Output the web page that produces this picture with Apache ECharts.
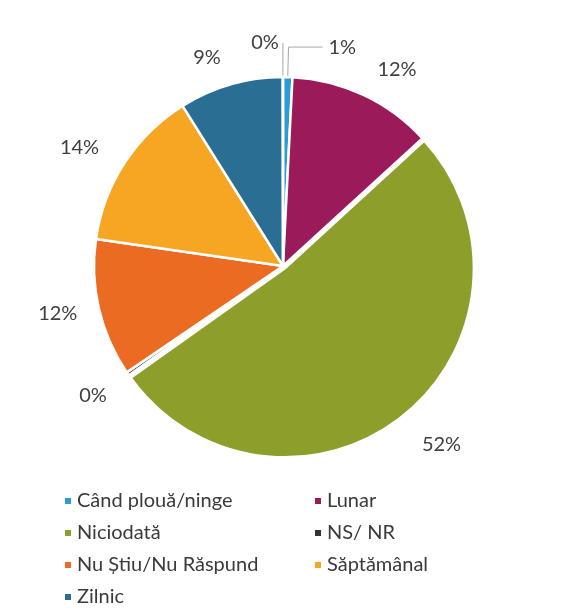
<!DOCTYPE html>
<html>
<head>
<meta charset="utf-8">
<script src="https://cdn.jsdelivr.net/npm/echarts@6/dist/echarts.min.js"></script>
<style>html,body{margin:0;padding:0;background:#fff}#c{width:565px;height:608px}</style>
</head>
<body>
<div id="c"></div>
<script>
// Categories (clockwise from 12 o'clock) and values (percent)
const categories = ['Când plouă/ninge', 'Lunar', 'Niciodată', 'NS/ NR', 'Nu Știu/Nu Răspund', 'Săptămânal', 'Zilnic'];
const values = [0.8, 12.4, 52.0, 0.3, 11.8, 13.8, 8.9];
// An extra unnamed near-zero entry that closes the circle (shown as "0%" at the top)
const trailingValue = 0.02;
const colors = ['#2f9bd5', '#9b1b5a', '#8d9e2a', '#333333', '#ec6b22', '#f6a623', '#2b6e93'];
const legendLeft = ['Când plouă/ninge', 'Niciodată', 'Nu Știu/Nu Răspund', 'Zilnic'];
const legendRight = ['Lunar', 'NS/ NR', 'Săptămânal'];

const FONT = 'Lato, "Open Sans", sans-serif';
// per-item label styling (leader lengths), keyed by category index
const labelTweaks = {
  0: { labelLine: { show: true, length: 30, length2: 34 }, label: { distanceToLabelLine: 6 } },
  2: { labelLine: { length: 26 } },
  3: { labelLine: { length: 23 } },
  4: { labelLine: { length: 20 } }
};
// extra vertical nudge of some labels (px), keyed by data index
const labelNudgeY = { 2: 9, 3: 9 };

const data = categories.map((name, i) => {
  const item = { name: name, value: values[i], itemStyle: { color: colors[i] } };
  if (labelTweaks[i]) Object.assign(item, labelTweaks[i]);
  if (i === 2) item.selected = true;
  return item;
});
data.push({
  name: '', value: trailingValue, itemStyle: { color: '#ffffff' },
  labelLine: { show: true, length: 34, length2: 0 },
  label: { distanceToLabelLine: 4 }
});

const chart = echarts.init(document.getElementById('c'), null, { renderer: 'canvas' });
const legendCommon = {
  orient: 'vertical', top: 491, padding: 0, itemWidth: 8, itemHeight: 8, itemGap: 12,
  icon: 'rect', selectedMode: false,
  textStyle: { fontFamily: FONT, fontSize: 20, color: '#3a3a3a', lineHeight: 20 }
};
chart.setOption({
  backgroundColor: '#fff',
  animation: false,
  legend: [
    Object.assign({ left: 63, data: legendLeft }, legendCommon),
    Object.assign({ left: 313, data: legendRight }, legendCommon)
  ],
  series: [{
    type: 'pie',
    center: [283, 266],
    radius: 189,
    startAngle: 90,
    clockwise: true,
    avoidLabelOverlap: false,
    percentPrecision: 0,
    selectedMode: 'multiple',
    selectedOffset: 3,
    itemStyle: { borderColor: '#fff', borderWidth: 2.5 },
    label: {
      show: true, position: 'outside', formatter: '{d}%',
      fontFamily: FONT, fontSize: 20, color: '#404040', distanceToLabelLine: 2
    },
    labelLine: { show: false, length: 28, length2: 0, lineStyle: { color: '#a6a6a6', width: 1 } },
    labelLayout: function (p) {
      const dy = labelNudgeY[p.dataIndex];
      return dy ? { dy: dy } : {};
    },
    emphasis: { disabled: true },
    select: { itemStyle: { borderColor: '#fff', borderWidth: 2.5 } },
    data: data
  }]
});
</script>
</body>
</html>
